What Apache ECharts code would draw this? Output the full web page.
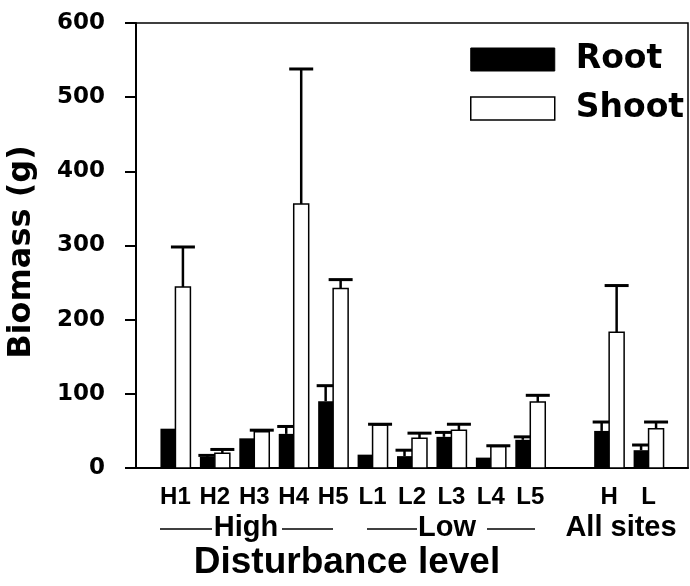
<!DOCTYPE html>
<html>
<head>
<meta charset="utf-8">
<script src="https://cdn.jsdelivr.net/npm/echarts@6/dist/echarts.min.js"></script>
<style>html,body{margin:0;padding:0;background:#fff;}#chart{width:690px;height:586px;}</style>
</head>
<body>
<div id="chart"></div>
<script>
// ---- data ----
const categories = ['H1','H2','H3','H4','H5','L1','L2','L3','L4','L5','H','L'];
const positions  = [1,2,3,4,5,6,7,8,9,10,12,13];
const rootMean    = [53, 15, 40, 46, 90, 18, 16, 42, 14, 38, 50, 24];
const rootErrTop  = [53, 17, 40, 56, 111, 18, 24, 48, 14, 42, 62, 31];
const shootMean   = [244, 20, 49, 356, 242, 58, 40, 51, 29, 89, 183, 53];
const shootErrTop = [298, 25, 51, 538, 254, 59, 47, 59, 30, 98, 246, 62];
const yTicks = [0, 100, 200, 300, 400, 500, 600];

const rootData = positions.map((p, i) => [p, rootMean[i], rootErrTop[i]]);
const shootData = positions.map((p, i) => [p, shootMean[i], shootErrTop[i]]);
const labelData = positions.map(p => [p, 0]);

const XFONT = '"Liberation Sans", Arial, sans-serif';
const YFONT = '"DejaVu Sans", sans-serif';

function barRenderer(side, fill, stroke, capW) {
  return function (params, api) {
    const x = api.value(0), v = api.value(1), e = api.value(2);
    const unit = api.size([1, 0])[0];
    const bw = unit * 0.38;
    const base = api.coord([x, 0]);
    const top = api.coord([x, v]);
    const et = api.coord([x, e]);
    const x0 = side < 0 ? base[0] - bw : base[0];
    const cx = x0 + bw / 2;
    const children = [{
      type: 'rect',
      shape: { x: x0, y: top[1], width: bw, height: base[1] - top[1] },
      style: { fill: fill, stroke: stroke, lineWidth: stroke ? 1.5 : 0 }
    }];
    if (e > v) {
      children.push({
        type: 'line',
        shape: { x1: cx, y1: top[1], x2: cx, y2: et[1] },
        style: { stroke: '#000', lineWidth: 2.5 }
      });
      children.push({
        type: 'line',
        shape: { x1: cx - capW / 2, y1: et[1], x2: cx + capW / 2, y2: et[1] },
        style: { stroke: '#000', lineWidth: 3 }
      });
    }
    return { type: 'group', children: children };
  };
}

const chart = echarts.init(document.getElementById('chart'), null, { renderer: 'canvas' });
chart.setOption({
  animation: false,
  backgroundColor: '#fff',
  grid: { left: 136, right: 2, top: 23, bottom: 118, show: true, borderColor: '#000', borderWidth: 1.5, backgroundColor: 'transparent' },
  xAxis: {
    type: 'value', min: 0, max: 14,
    axisLine: { show: true, lineStyle: { color: '#000', width: 2 } },
    axisTick: { show: false }, axisLabel: { show: false }, splitLine: { show: false }
  },
  yAxis: {
    type: 'value', min: yTicks[0], max: yTicks[yTicks.length - 1], interval: 100,
    axisLine: { show: true, lineStyle: { color: '#000', width: 2 } },
    axisTick: { show: true, inside: false, length: 11, lineStyle: { color: '#000', width: 2 } },
    axisLabel: { color: '#000', fontFamily: YFONT, fontWeight: 'bold', fontSize: 23, margin: 31 },
    splitLine: { show: false }
  },
  legend: {
    left: 470, top: 43, orient: 'vertical', padding: 0,
    itemWidth: 84, itemHeight: 23, itemGap: 16,
    textStyle: { color: '#000', fontFamily: YFONT, fontWeight: 'bold', fontSize: 33, padding: [0, 0, 0, 16] },
    data: [
      { name: 'Root', icon: 'rect', itemStyle: { color: '#000', borderColor: '#000', borderWidth: 1 } },
      { name: 'Shoot', icon: 'rect', itemStyle: { color: '#fff', borderColor: '#000', borderWidth: 1.5 } }
    ],
    selectedMode: false
  },
  series: [
    { name: 'Root', type: 'custom', itemStyle: { color: '#000' }, renderItem: barRenderer(-1, '#000', null, 18), data: rootData, clip: false, silent: true },
    { name: 'Shoot', type: 'custom', itemStyle: { color: '#fff', borderColor: '#000' }, renderItem: barRenderer(1, '#fff', '#000', 24), data: shootData, clip: false, silent: true },
    {
      name: 'labels', type: 'custom', clip: false, silent: true, data: labelData,
      renderItem: function (params, api) {
        const c = api.coord([api.value(0), 0]);
        return {
          type: 'text',
          style: { text: categories[params.dataIndex], x: c[0], y: c[1] + 29, fill: '#000', font: 'bold 24px ' + XFONT, align: 'center', verticalAlign: 'middle' }
        };
      }
    }
  ],
  graphic: [
    { type: 'text', x: 22, y: 252, rotation: Math.PI / 2, style: { text: 'Biomass (g)', fill: '#000', font: 'bold 32px ' + YFONT, align: 'center', verticalAlign: 'middle' } },
    { type: 'text', x: 347, y: 563, style: { text: 'Disturbance level', fill: '#000', font: 'bold 37px ' + XFONT, align: 'center', verticalAlign: 'middle' } },
    { type: 'text', x: 246, y: 528, style: { text: 'High', fill: '#000', font: 'bold 29px ' + XFONT, align: 'center', verticalAlign: 'middle' } },
    { type: 'line', shape: { x1: 160, y1: 529, x2: 212, y2: 529 }, style: { stroke: '#000', lineWidth: 1.5 } },
    { type: 'line', shape: { x1: 282, y1: 529, x2: 333, y2: 529 }, style: { stroke: '#000', lineWidth: 1.5 } },
    { type: 'text', x: 447, y: 528, style: { text: 'Low', fill: '#000', font: 'bold 29px ' + XFONT, align: 'center', verticalAlign: 'middle' } },
    { type: 'line', shape: { x1: 367, y1: 529, x2: 417, y2: 529 }, style: { stroke: '#000', lineWidth: 1.5 } },
    { type: 'line', shape: { x1: 487, y1: 529, x2: 535, y2: 529 }, style: { stroke: '#000', lineWidth: 1.5 } },
    { type: 'text', x: 621, y: 528, style: { text: 'All sites', fill: '#000', font: 'bold 29px ' + XFONT, align: 'center', verticalAlign: 'middle' } }
  ]
});
</script>
</body>
</html>
